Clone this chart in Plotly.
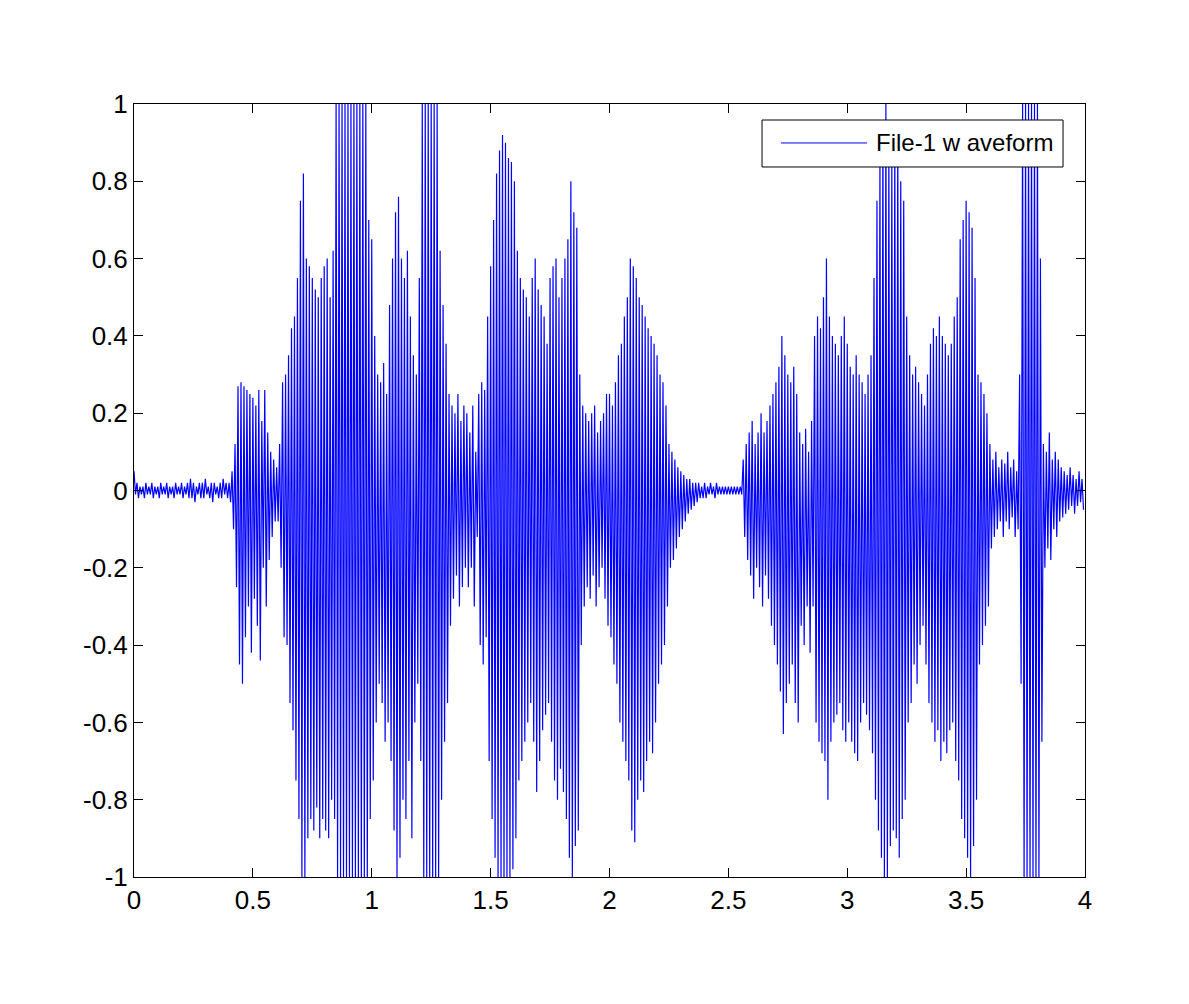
import numpy as np
import plotly.graph_objects as go

# File-1 waveform: one positive and one negative peak
# every 0.0125 s (values in percent of full scale), 16 peaks per 0.2 s row
dt = 0.0125
picos_pos = [
    5, 2, 1, 1, 2, 1, 2, 1, 1, 2, 1, 2, 1, 1, 2, 1,
    2, 1, 2, 3, 2, 1, 2, 2, 3, 1, 2, 2, 1, 2, 3, 2,
    2, 5, 12, 27, 28, 27, 26, 25, 24, 22, 26, 18, 26, 15, 10, 8,
    6, 12, 28, 30, 35, 42, 45, 55, 75, 82, 60, 58, 55, 52, 50, 55,
    58, 60, 50, 62, 100, 100, 100, 100, 100, 100, 100, 100, 100, 100, 100, 70,
    65, 40, 30, 28, 33, 25, 48, 60, 72, 76, 60, 55, 62, 45, 35, 30,
    55, 100, 100, 100, 100, 100, 100, 62, 48, 38, 25, 22, 20, 25, 18, 22,
    20, 15, 22, 10, 25, 28, 26, 45, 58, 70, 82, 88, 92, 90, 86, 85,
    80, 62, 55, 52, 50, 45, 55, 60, 52, 48, 45, 38, 55, 58, 60, 50,
    55, 60, 65, 80, 72, 68, 30, 22, 20, 18, 20, 22, 15, 18, 20, 25,
    25, 22, 28, 35, 38, 45, 50, 60, 58, 55, 50, 48, 45, 42, 40, 38,
    35, 30, 28, 22, 12, 10, 8, 6, 5, 4, 3, 3, 2, 2, 2, 1,
    2, 1, 2, 1, 2, 1, 1, 1, 1, 1, 1, 1, 1, 8, 12, 15,
    18, 12, 15, 20, 15, 18, 22, 25, 28, 32, 40, 35, 30, 28, 32, 25,
    15, 12, 16, 10, 18, 40, 45, 42, 50, 60, 45, 40, 38, 35, 40, 45,
    38, 32, 30, 35, 30, 28, 25, 30, 35, 55, 75, 85, 95, 100, 88, 85,
    90, 92, 80, 75, 45, 35, 30, 32, 28, 25, 22, 30, 38, 42, 40, 45,
    40, 38, 35, 38, 45, 50, 65, 70, 75, 72, 68, 55, 30, 28, 25, 20,
    12, 8, 10, 6, 8, 7, 10, 6, 8, 5, 30, 100, 100, 100, 100, 100,
    100, 60, 12, 10, 15, 8, 10, 8, 6, 5, 4, 6, 4, 3, 5, 3,
]
picos_neg = [
    -1, -2, -1, -2, -1, -1, -2, -1, -2, -1, -1, -2, -1, -2, -1, -1,
    -2, -1, -2, -2, -3, -1, -2, -2, -1, -2, -3, -1, -2, -2, -1, -2,
    -3, -10, -25, -45, -50, -38, -30, -42, -28, -35, -44, -20, -30, -18, -12, -8,
    -8, -20, -38, -40, -55, -62, -75, -85, -100, -100, -90, -85, -88, -82, -90, -85,
    -88, -90, -80, -85, -100, -100, -100, -100, -100, -100, -100, -100, -100, -100, -100, -85,
    -75, -60, -50, -55, -65, -60, -70, -88, -100, -95, -80, -85, -70, -90, -60, -50,
    -70, -100, -100, -100, -100, -100, -100, -80, -65, -55, -35, -28, -22, -30, -25, -20,
    -25, -20, -30, -12, -40, -45, -38, -70, -85, -95, -100, -100, -100, -100, -100, -98,
    -90, -75, -70, -65, -60, -55, -65, -78, -70, -62, -58, -55, -65, -75, -80, -72,
    -78, -85, -95, -100, -92, -88, -40, -30, -25, -28, -22, -30, -25, -20, -28, -35,
    -38, -45, -50, -60, -65, -70, -75, -88, -91, -80, -75, -78, -70, -65, -68, -60,
    -50, -45, -40, -30, -20, -18, -15, -12, -10, -8, -6, -5, -4, -3, -2, -2,
    -2, -1, -1, -2, -1, -1, -1, -1, -1, -1, -1, -1, -1, -12, -18, -22,
    -28, -20, -25, -30, -22, -28, -35, -40, -45, -52, -63, -55, -50, -45, -55, -60,
    -35, -40, -30, -42, -30, -60, -65, -68, -70, -80, -65, -60, -58, -55, -62, -65,
    -60, -65, -68, -70, -60, -55, -58, -62, -68, -80, -88, -95, -100, -100, -92, -88,
    -90, -95, -85, -80, -60, -55, -45, -50, -40, -35, -45, -55, -60, -65, -62, -70,
    -65, -68, -62, -60, -70, -75, -85, -90, -95, -100, -92, -80, -45, -40, -35, -30,
    -15, -12, -10, -8, -12, -8, -10, -7, -12, -10, -50, -100, -100, -100, -100, -100,
    -100, -65, -20, -15, -18, -10, -12, -8, -7, -6, -5, -4, -6, -4, -3, -5,
]

x_ticks = [0, 0.5, 1, 1.5, 2, 2.5, 3, 3.5, 4]
x_labels = ["0", "0.5", "1", "1.5", "2", "2.5", "3", "3.5", "4"]
y_ticks = [-1, -0.8, -0.6, -0.4, -0.2, 0, 0.2, 0.4, 0.6, 0.8, 1]
y_labels = ["-1", "-0.8", "-0.6", "-0.4", "-0.2", "0", "0.2", "0.4", "0.6", "0.8", "1"]

# intercala picos positivos e negativos
sinal = np.empty(2 * len(picos_pos))
sinal[0::2] = np.array(picos_pos) / 100
sinal[1::2] = np.array(picos_neg) / 100
tempo = np.arange(len(sinal)) * dt / 2

fig = go.Figure()
fig.add_trace(go.Scatter(x=tempo, y=sinal, mode="lines", name="File-1 w aveform",
                         line=dict(color="#0000ff", width=1.2), showlegend=False))

eixo = dict(showline=True, linecolor="black", linewidth=1, mirror="ticks",
            ticks="inside", ticklen=9, tickcolor="black", showgrid=False,
            zeroline=False, tickfont=dict(family="Arial", size=26, color="black"))
fig.update_xaxes(range=[0, 4], tickvals=x_ticks, ticktext=x_labels, **eixo)
fig.update_yaxes(range=[-1, 1], tickvals=y_ticks, ticktext=y_labels, **eixo)

# legenda desenhada a mao (caixa estilo MATLAB)
fig.add_shape(type="rect", xref="paper", yref="paper", x0=0.6604, x1=0.9769,
              y0=0.9185, y1=0.9793, line=dict(color="black", width=1), fillcolor="white")
fig.add_shape(type="line", xref="paper", yref="paper", x0=0.6803, x1=0.7708,
              y0=0.9496, y1=0.9496, line=dict(color="#0000ff", width=1))
fig.add_annotation(xref="paper", yref="paper", x=0.7781, y=0.9496, xanchor="left",
                   yanchor="middle", text="File-1 w aveform", showarrow=False,
                   font=dict(family="Arial", size=24, color="black"))

fig.update_layout(width=1189, height=1004, plot_bgcolor="white", paper_bgcolor="white",
                  margin=dict(l=126, r=112, t=96, b=135))
fig.write_html("out.html")
